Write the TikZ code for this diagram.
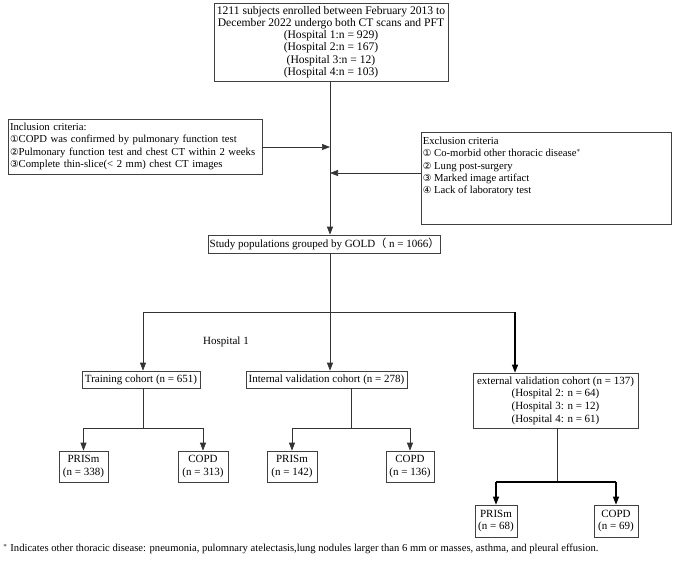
\documentclass[tikz,border=0pt]{standalone}
\usepackage{fontspec}
\setmainfont{Liberation Serif}
\newfontfamily\dv{DejaVu Sans}[Scale=0.9]
\newfontfamily\cjk{Noto Sans CJK SC}
\usetikzlibrary{arrows.meta}
\begin{document}
\begin{tikzpicture}[x=1pt,y=-1pt,
  font=\fontsize{11}{12.6}\selectfont,
  box/.style={draw=black!75, line width=0.7pt, inner sep=1.5pt, align=center, anchor=center},
  conn/.style={draw=black!80, line width=0.7pt},
  arr/.style={conn, -{Triangle[length=8pt,width=6pt]}},
  bconn/.style={draw=black, line width=1.3pt},
  barr/.style={bconn, -{Triangle[length=8pt,width=6pt]}}]
\useasboundingbox (0,0) rectangle (678,565);

% top
\node[box, minimum width=234pt, minimum height=78pt, font=\fontsize{11.6}{12.3}\selectfont] (top) at (331,42)
  {1211 subjects enrolled between February 2013 to\\
   December 2022 undergo both CT scans and PFT\\
   (Hospital 1:n = 929)\\ (Hospital 2:n = 167)\\ (Hospital 3:n = 12)\\ (Hospital 4:n = 103)};

% inclusion
\node[box, align=left, text width=250pt, minimum height=55pt, inner sep=2pt, font=\fontsize{10.7}{12.6}\selectfont] (inc) at (135,146.5)
  {Inclusion criteria:\\
   {\dv ①}COPD was confirmed by pulmonary function test\\
   {\dv ②}Pulmonary function test and chest CT within 2 weeks\\
   {\dv ③}Complete thin-slice(< 2 mm) chest CT images};

% exclusion
\node[box, minimum width=250pt, minimum height=92pt] (exc) at (546,178) {};
\node[align=left, anchor=north west, inner sep=0pt, font=\fontsize{10.7}{12.4}\selectfont] (exctext) at ([xshift=2pt,yshift=-5pt]exc.north west)
  {Exclusion criteria\\
   {\dv ①} Co-morbid other thoracic disease$^{*}$\\
   {\dv ②} Lung post-surgery\\
   {\dv ③} Marked image artifact\\
   {\dv ④} Lack of laboratory test};

% study
\node[box, minimum width=225pt, minimum height=18pt] (study) at (324.5,244)
  {Study populations grouped by GOLD{\cjk （} n = 1066{\cjk ）}};

\coordinate (mainx) at (330,0);
\coordinate (incj) at (330,147);
\coordinate (excj) at (330,173);
\coordinate (split) at (330,312);
\coordinate (lsplit) at (143,312);
\coordinate (rsplit) at (515,312);

\draw[arr] (inc.east |- incj) -- (incj);
\draw[arr] (exc.west |- excj) -- (excj);
\draw[arr] (top.south -| mainx) -- (study.north -| mainx);

% level 2
\node[box, minimum width=118pt, minimum height=17pt] (train) at (141,379.5) {Training cohort (n = 651)};
\node[box, minimum width=161pt, minimum height=17pt] (intv) at (326.5,379.5) {Internal validation cohort (n = 278)};
\node[box, minimum width=165pt, minimum height=55pt] (ext) at (555.5,400.5)
  {external validation cohort (n = 137)\\ (Hospital 2: n = 64)\\ (Hospital 3: n = 12)\\ (Hospital 4: n = 61)};
\node (h1) at (226,342) {Hospital 1};

\draw[conn] (study.south -| mainx) -- (split);
\draw[conn] (lsplit) -- (rsplit);
\draw[arr] (lsplit) -- (lsplit |- train.north);
\draw[arr] (split) -- (split |- intv.north);
\draw[barr] (rsplit) -- (rsplit |- ext.north);

% level 3
\node[box, minimum width=49pt, minimum height=31pt] (p1) at (83.5,466.5) {PRISm\\(n = 338)};
\node[box, minimum width=50pt, minimum height=31pt] (c1) at (203,466.5) {COPD\\(n = 313)};
\node[box, minimum width=50pt, minimum height=31pt] (p2) at (292,466.5) {PRISm\\(n = 142)};
\node[box, minimum width=48pt, minimum height=31pt] (c2) at (410,466.5) {COPD\\(n = 136)};
\node[box, minimum width=42pt, minimum height=32pt] (p3) at (496,521) {PRISm\\(n = 68)};
\node[box, minimum width=44pt, minimum height=32pt] (c3) at (616,521) {COPD\\(n = 69)};

\coordinate (s1) at (143,428);
\coordinate (s2) at (351,428);
\coordinate (s3) at (557,482);

\draw[conn] (train.south -| s1) -- (s1);
\draw[conn] (p1.north |- s1) -- (c1.north |- s1);
\draw[arr] (p1.north |- s1) -- (p1.north);
\draw[arr] (c1.north |- s1) -- (c1.north);

\draw[conn] (intv.south -| s2) -- (s2);
\draw[conn] (p2.north |- s2) -- (c2.north |- s2);
\draw[arr] (p2.north |- s2) -- (p2.north);
\draw[arr] (c2.north |- s2) -- (c2.north);

\draw[conn] (ext.south -| s3) -- (s3);
\draw[bconn] (p3.north |- s3) -- (c3.north |- s3);
\draw[barr] (p3.north |- s3) -- (p3.north);
\draw[barr] (c3.north |- s3) -- (c3.north);

% footnote
\node[anchor=west, inner sep=0pt, font=\fontsize{10.6}{12}\selectfont] (foot) at (3,549)
  {$^{*}$ Indicates other thoracic disease: pneumonia, pulomnary atelectasis,lung nodules larger than 6 mm or masses, asthma, and pleural effusion.};
\end{tikzpicture}
\end{document}
